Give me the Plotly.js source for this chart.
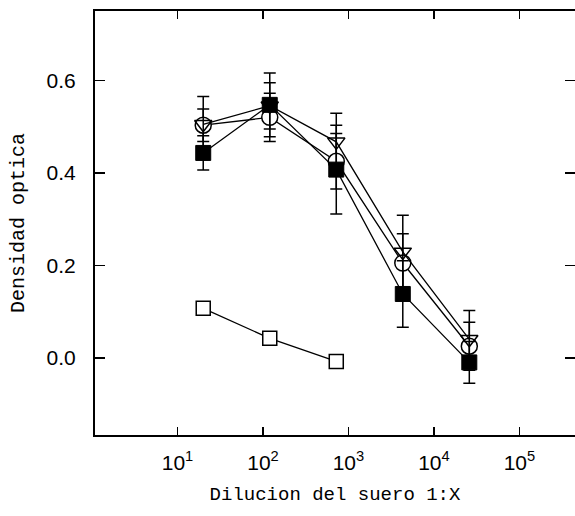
<!DOCTYPE html>
<html>
<head>
<meta charset="utf-8">
<script src="https://cdn.plot.ly/plotly-3.0.1.min.js"></script>
<style>
html,body{margin:0;padding:0;background:#fff;}
#chart{width:575px;height:516px;}
</style>
</head>
<body>
<div id="chart"></div>
<script>
// Serum dilution (1:X)
var dilution = [20, 120, 720, 4320, 25920];
var dilutionNeg = [20, 120, 720];

// Filled squares
var filledSq = [0.443, 0.547, 0.407, 0.138, -0.010];
var filledSqErr = [0.037, 0.069, 0.096, 0.072, 0.045];
// Open circles
var openCirc = [0.503, 0.520, 0.425, 0.205, 0.025];
var openCircErr = [0.035, 0.052, 0.060, 0.063, 0.052];
// Open down-triangles
var openTri = [0.505, 0.545, 0.467, 0.229, 0.040];
var openTriErr = [0.060, 0.050, 0.062, 0.079, 0.062];
// Open squares (control)
var openSq = [0.107, 0.042, -0.008];

var xTickVals = [10, 100, 1000, 10000, 100000];
var xTickText = ['10<sup>1</sup>', '10<sup>2</sup>', '10<sup>3</sup>', '10<sup>4</sup>', '10<sup>5</sup>'];
var yTickVals = [0.0, 0.2, 0.4, 0.6];
var yTickText = ['0.0', '0.2', '0.4', '0.6'];

var lineStyle = {color: '#000', width: 1.3};
function errBar(arr) {
  return {type: 'data', array: arr, visible: true, color: '#000', thickness: 1.5, width: 6};
}

var traces = [
  {
    x: dilutionNeg, y: openSq, mode: 'lines+markers', type: 'scatter',
    line: lineStyle,
    marker: {symbol: 'square', size: 14, color: '#fff', line: {color: '#000', width: 1.5}}
  },
  {
    x: dilution, y: openCirc, mode: 'lines+markers', type: 'scatter',
    line: lineStyle, error_y: errBar(openCircErr),
    marker: {symbol: 'circle', size: 16, color: '#fff', line: {color: '#000', width: 1.5}}
  },
  {
    x: dilution, y: openTri, mode: 'lines+markers', type: 'scatter',
    line: lineStyle, error_y: errBar(openTriErr),
    marker: {symbol: 'triangle-down', size: 15, color: 'rgba(255,255,255,0)', line: {color: '#000', width: 1.5}}
  },
  {
    x: dilution, y: filledSq, mode: 'lines+markers', type: 'scatter',
    line: lineStyle, error_y: errBar(filledSqErr),
    marker: {symbol: 'square', size: 15, color: '#000', line: {color: '#000', width: 1}}
  }
];

var tickFont = {family: '"Liberation Sans", Arial, sans-serif', size: 21, color: '#000'};
var titleFontFamily = '"Liberation Mono", "DejaVu Sans Mono", monospace';

var layout = {
  width: 575, height: 516,
  margin: {l: 95, r: 0, t: 11, b: 81},
  paper_bgcolor: '#fff', plot_bgcolor: '#fff',
  showlegend: false,
  font: {family: '"Liberation Sans", sans-serif', color: '#000', size: 18},
  xaxis: {
    type: 'log', range: [0.035, 5.65],
    tickmode: 'array', tickvals: xTickVals, ticktext: xTickText,
    ticks: 'inside', ticklen: 8, tickwidth: 1.5, tickcolor: '#000',
    showline: true, linewidth: 2, linecolor: '#000', mirror: 'ticks',
    showgrid: false, zeroline: false,
    ticklabelstandoff: 8,
    tickfont: tickFont,
    title: {text: 'Dilucion del suero 1:X', standoff: 13,
            font: {family: titleFontFamily, size: 19, color: '#000'}}
  },
  yaxis: {
    range: [-0.167, 0.75],
    tickmode: 'array', tickvals: yTickVals, ticktext: yTickText,
    ticks: 'inside', ticklen: 10, tickwidth: 1.5, tickcolor: '#000',
    showline: true, linewidth: 2, linecolor: '#000', mirror: 'ticks',
    showgrid: false, zeroline: false,
    ticklabelstandoff: 13,
    tickfont: tickFont,
    title: {text: 'Densidad optica', standoff: 17,
            font: {family: titleFontFamily, size: 20, color: '#000'}}
  }
};

Plotly.newPlot('chart', traces, layout, {displayModeBar: false, staticPlot: true});
</script>
</body>
</html>
